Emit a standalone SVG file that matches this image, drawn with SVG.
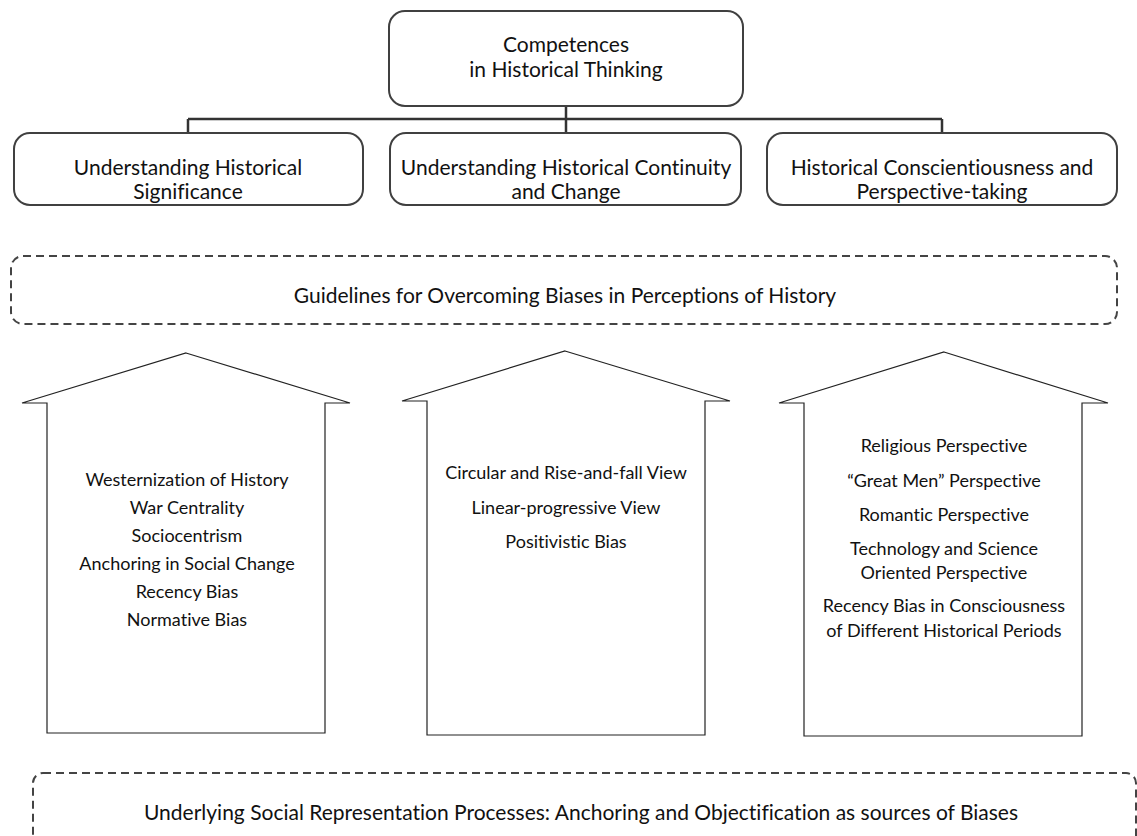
<svg xmlns="http://www.w3.org/2000/svg" width="1137" height="836" viewBox="0 0 1137 836">
<style>
.box{fill:#fff;stroke:#404040;stroke-width:2}
.dash{fill:none;stroke:#444;stroke-width:2;stroke-dasharray:8 5}
.arrow{fill:#fff;stroke:#222;stroke-width:1.2}
.conn{fill:none;stroke:#333;stroke-width:2.5}
text{font-family:Lato,"Liberation Sans",sans-serif;fill:#111;text-anchor:middle;font-variant-ligatures:none;font-feature-settings:"liga" 0}
.t20{font-size:21px}
.t17{font-size:18px}
</style>
<rect width="1137" height="836" fill="#fff"/>
<g id="connectors">
<path class="conn" d="M566 106V133M188 119H942M188 119V133M942 119V133"/>
</g>
<g id="competences">
<rect class="box" x="389" y="11" width="354" height="95" rx="16"/>
<text class="t20" x="566" y="52">Competences</text>
<text class="t20" x="566" y="77">in Historical Thinking</text>
</g>
<g id="significance">
<rect class="box" x="14" y="133" width="349" height="72" rx="16"/>
<text class="t20" x="188" y="175">Understanding Historical</text>
<text class="t20" x="188" y="199">Significance</text>
</g>
<g id="continuity">
<rect class="box" x="390" y="133" width="351" height="72" rx="16"/>
<text class="t20" x="566" y="175">Understanding Historical Continuity</text>
<text class="t20" x="566" y="199">and Change</text>
</g>
<g id="conscientiousness">
<rect class="box" x="767" y="133" width="350" height="72" rx="16"/>
<text class="t20" x="942" y="175">Historical Conscientiousness and</text>
<text class="t20" x="942" y="199">Perspective-taking</text>
</g>
<g id="guidelines">
<rect class="dash" x="11" y="256" width="1106" height="68" rx="12"/>
<text class="t20" x="565" y="303">Guidelines for Overcoming Biases in Perceptions of History</text>
</g>
<g id="arrow1">
<polygon class="arrow" points="186,353 350,403 325,403 325,733 47,733 47,403 22,403"/>
<text class="t17" x="187" y="486">Westernization of History</text>
<text class="t17" x="187" y="514">War Centrality</text>
<text class="t17" x="187" y="542">Sociocentrism</text>
<text class="t17" x="187" y="570">Anchoring in Social Change</text>
<text class="t17" x="187" y="598">Recency Bias</text>
<text class="t17" x="187" y="626">Normative Bias</text>
</g>
<g id="arrow2">
<polygon class="arrow" points="565,351 730,401 705,401 705,735 427,735 427,401 402,401"/>
<text class="t17" x="566" y="479">Circular and Rise-and-fall View</text>
<text class="t17" x="566" y="514">Linear-progressive View</text>
<text class="t17" x="566" y="548">Positivistic Bias</text>
</g>
<g id="arrow3">
<polygon class="arrow" points="944,352 1108,403 1082,403 1082,736 804,736 804,403 779,403"/>
<text class="t17" x="944" y="452">Religious Perspective</text>
<text class="t17" x="944" y="487">“Great Men” Perspective</text>
<text class="t17" x="944" y="521">Romantic Perspective</text>
<text class="t17" x="944" y="555">Technology and Science</text>
<text class="t17" x="944" y="579">Oriented Perspective</text>
<text class="t17" x="944" y="612">Recency Bias in Consciousness</text>
<text class="t17" x="944" y="637">of Different Historical Periods</text>
</g>
<g id="underlying">
<rect class="dash" x="33" y="773" width="1103" height="90" rx="10"/>
<text class="t20" x="581" y="820">Underlying Social Representation Processes: Anchoring and Objectification as sources of Biases</text>
</g>
</svg>
